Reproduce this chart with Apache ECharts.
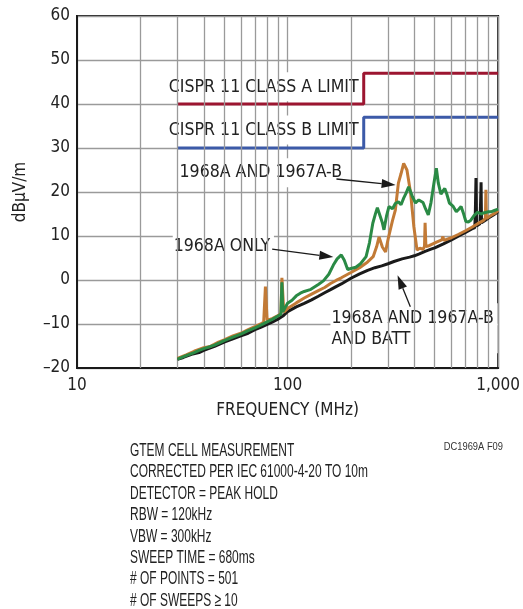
<!DOCTYPE html>
<html><head><meta charset="utf-8">
<script src="https://cdn.jsdelivr.net/npm/echarts@6/dist/echarts.min.js"></script>
<style>html,body{margin:0;padding:0;background:#fff}#c{width:523px;height:609px}</style>
</head><body><div id="c"></div>
<script>
const FONT = '"DejaVu Sans Condensed","Liberation Sans",sans-serif';
const NOTE_FONT = '"Liberation Sans","DejaVu Sans",sans-serif';

// axes
const xMin = 10, xMax = 1000;
const yMin = -20, yMax = 60, yInterval = 10;
const xTickLabels = {10: '10', 100: '100', 1000: '1,000'};
const minorGridFreqs = [20,30,40,50,60,70,80,90,200,300,400,500,600,700,800,900];

// limits
const classAFreq = [30, 230, 230, 1000];
const classAVal  = [40, 40, 47, 47];
const classBFreq = [30, 230, 230, 1000];
const classBVal  = [30, 30, 37, 37];

// 1968A AND 1967A-B AND BATT (black)
const battFreq = [30,32,35,38,40,45,50,55,60,65,70,75,80,85,90,95,100,110,120,130,140,150,160,170,180,200,220,240,260,280,300,320,350,380,400,420,450,480,500,550,600,650,700,750,775,780,785,790,800,820,826,830,834,850,870,900,950,1000];
const battVal  = [-18,-17.6,-16.9,-16.5,-16,-15.1,-14.1,-13.4,-12.7,-12.1,-11.3,-10.7,-10.1,-9.5,-8.9,-8.2,-7.2,-6.1,-5.3,-4.5,-3.7,-2.9,-2.2,-1.5,-0.9,0.4,1.4,2.2,2.8,3.2,3.7,4.2,4.8,5.2,5.5,5.9,6.5,7.0,7.3,8.2,9.1,10,10.8,11.6,11.9,16,23.2,12.3,12.5,12.8,18,22.2,13.0,13.2,13.6,14.1,14.8,15.5];

// 1968A AND 1967A-B (orange)
const bFreq = [30,33,36,40,43,47,50,55,60,65,70,75,77,78.5,80,85,90,93,94,96,100,110,120,130,140,150,160,170,180,200,220,240,255,265,272,282,292,300,315,325,336,346,356,369,384,398,412,425,440,447,450,454,470,484,510,540,547,552,600,650,700,750,800,850,870,875,880,920,960,1000];
const bVal  = [-17.8,-17,-16.2,-15.4,-15.1,-14.1,-13.6,-12.7,-12.1,-11.3,-10.6,-9.9,-9.6,-1.5,-9.2,-8.7,-8.1,-7.6,0.5,-7.3,-6.5,-5.2,-4.1,-3.2,-2.4,-1.7,-0.8,-0.1,0.5,1.7,2.8,4.1,5.3,7.6,9.8,7.5,6.4,9.2,13.5,15.9,22,24.2,26.5,25,19.8,12.1,6.8,7.2,7.0,7.6,13,7.6,7.8,8.1,8.6,9.1,9.9,9.0,9.6,10.4,11.2,12,12.8,13.5,14,20.5,14,14.6,15.1,15.8];

// 1968A ONLY (green)
const aFreq = [30,33,36,38,40,45,50,55,60,65,70,75,80,85,90,93,94,95,100,105,110,115,120,128,140,148,157,165,172,180,186,193,200,211,222,236,245,254,262,267,272,282,287,295,303,315,325,336,346,356,366,376,390,405,420,440,452,466,480,495,509,520,535,548,558,570,587,610,633,650,667,685,703,722,742,770,800,830,860,900,925,960,1000];
const aVal  = [-18,-17.2,-16.5,-16,-15.6,-14.8,-13.8,-13,-12.3,-11.5,-10.9,-10.2,-9.5,-8.9,-8.2,-7.8,-0.5,-7.2,-5.3,-4.6,-3.6,-3.0,-2.6,-2.2,-1.0,-0.2,1.3,3.4,4.8,5.7,4.5,2.4,2.6,2.9,3.7,5.3,8.5,12.9,15.2,16.4,16.7,13,11.4,14.5,16.7,16.2,17.4,17.8,17.1,18.6,19.8,21.2,19.2,17.5,18.2,17.6,16.2,14.8,17.6,21.8,25.4,22,19.5,20.3,20.8,19.6,17.5,16.8,15.5,16.1,16.7,15.1,13.3,13.2,13.6,14.7,15.4,15.0,15.3,15.5,15.5,15.8,16.1];

const zip = (f, v) => f.map((x, i) => [x, v[i]]);

const chart = echarts.init(document.getElementById('c'), null, {renderer: 'canvas'});
const gridLine = {color: '#9a9a9a', width: 1.3};

chart.setOption({
  animation: false,
  backgroundColor: '#fff',
  grid: {left: 77, top: 16, width: 427, height: 352, show: true, borderColor: '#1a1a1a', borderWidth: 2, backgroundColor: 'transparent'},
  xAxis: {
    type: 'log', logBase: 10, min: xMin, max: xMax,
    axisLine: {show: true, onZero: false, lineStyle: {color: '#1a1a1a', width: 2}},
    axisTick: {show: false},
    splitLine: {show: true, lineStyle: gridLine},
    axisLabel: {fontFamily: FONT, fontSize: 17, color: '#222', margin: 9, formatter: v => xTickLabels[Math.round(v)] || ''},
    name: 'FREQUENCY (MHz)', nameLocation: 'middle', nameGap: 34,
    nameTextStyle: {fontFamily: FONT, fontSize: 17, color: '#222'}
  },
  yAxis: {
    type: 'value', min: yMin, max: yMax, interval: yInterval,
    axisLine: {show: true, onZero: false, lineStyle: {color: '#1a1a1a', width: 2}},
    axisTick: {show: false},
    splitLine: {show: true, lineStyle: gridLine},
    axisLabel: {fontFamily: FONT, fontSize: 17, color: '#222', margin: 7, formatter: v => v < 0 ? '\u2013' + Math.abs(v) : String(v)},
    name: 'dB\u03bcV/m', nameLocation: 'middle', nameGap: 48, nameRotate: 90,
    nameTextStyle: {fontFamily: FONT, fontSize: 17, color: '#222'}
  },
  series: [
    {type: 'line', data: [], z: 1, silent: true,
     markLine: {silent: true, symbol: 'none', label: {show: false}, lineStyle: {color: '#9a9a9a', width: 1.3, type: 'solid'},
       data: minorGridFreqs.map(f => ({xAxis: f}))}},
    {name: 'A', type: 'line', data: zip(classAFreq, classAVal), showSymbol: false, z: 4, lineStyle: {color: '#9c1530', width: 3}},
    {name: 'B', type: 'line', data: zip(classBFreq, classBVal), showSymbol: false, z: 4, lineStyle: {color: '#3c5aa8', width: 3}},
    {name: 'batt', type: 'line', data: zip(battFreq, battVal), showSymbol: false, z: 5, lineStyle: {color: '#1a1a1a', width: 3}},
    {name: 'b', type: 'line', data: zip(bFreq, bVal), showSymbol: false, z: 6, lineStyle: {color: '#c27a36', width: 3}},
    {name: 'a', type: 'line', data: zip(aFreq, aVal), showSymbol: false, z: 7, lineStyle: {color: '#2a8a45', width: 3}}
  ]
});

// annotations anchored to data coordinates
const labels = [
  {f: 27.3, v: 43.9, text: 'CISPR 11 CLASS A LIMIT'},
  {f: 27.3, v: 34.1, text: 'CISPR 11 CLASS B LIMIT'},
  {f: 30.7, v: 24.4, text: '1968A AND 1967A-B'},
  {f: 28.8, v: 7.6, text: '1968A ONLY'},
  {f: 161.6, v: -8.6, text: '1968A AND 1967A-B\nAND BATT'}
];
const arrows = [
  {from: [170.7, 22.95], to: [326, 21.6]},
  {from: [84.5, 7.0], to: [165, 5.2]},
  {from: [383, -6.1], to: [333, 1.1]}
];
const px = p => chart.convertToPixel({gridIndex: 0}, p);
const elements = [];
const LH = 21, PADV = 4;
labels.forEach(l => {
  const p = px([l.f, l.v]);
  elements.push({type: 'text', x: p[0] - 1, y: p[1] - PADV - LH / 2, z: 3, scaleX: 0.95,
    style: {text: l.text, font: '18.5px ' + FONT, fill: '#222', verticalAlign: 'top', align: 'left',
            backgroundColor: '#fff', padding: [PADV, 4, PADV, 1], lineHeight: LH}});
});
arrows.forEach(a => {
  const p0 = px(a.from), p1 = px(a.to);
  const dx = p1[0] - p0[0], dy = p1[1] - p0[1];
  const L = Math.hypot(dx, dy), ux = dx / L, uy = dy / L;
  const hl = 14, hw = 4.5;
  const bx = p1[0] - ux * hl, by = p1[1] - uy * hl;
  elements.push({type: 'line', z: 8, shape: {x1: p0[0], y1: p0[1], x2: bx, y2: by}, style: {stroke: '#1a1a1a', lineWidth: 1.3}});
  elements.push({type: 'polygon', z: 8, shape: {points: [[p1[0], p1[1]], [bx - uy * hw, by + ux * hw], [bx + uy * hw, by - ux * hw]]}, style: {fill: '#1a1a1a'}});
});
// notes
const notes = ['GTEM CELL MEASUREMENT', 'CORRECTED PER IEC 61000-4-20 TO 10m', 'DETECTOR = PEAK HOLD', 'RBW = 120kHz', 'VBW = 300kHz', 'SWEEP TIME = 680ms', '# OF POINTS = 501', '# OF SWEEPS \u2265 10'];
elements.push({type: 'text', x: 130, y: 440, z: 3, scaleX: 0.63, style: {text: notes.join('\n'), font: '19px ' + NOTE_FONT, fill: '#222', lineHeight: 21.4, verticalAlign: 'top'}});
elements.push({type: 'text', x: 503, y: 441, z: 3, scaleX: 0.85, style: {text: 'DC1969A F09', font: '11px ' + NOTE_FONT, fill: '#333', align: 'right', verticalAlign: 'top'}});
chart.setOption({graphic: {elements}});
</script></body></html>
